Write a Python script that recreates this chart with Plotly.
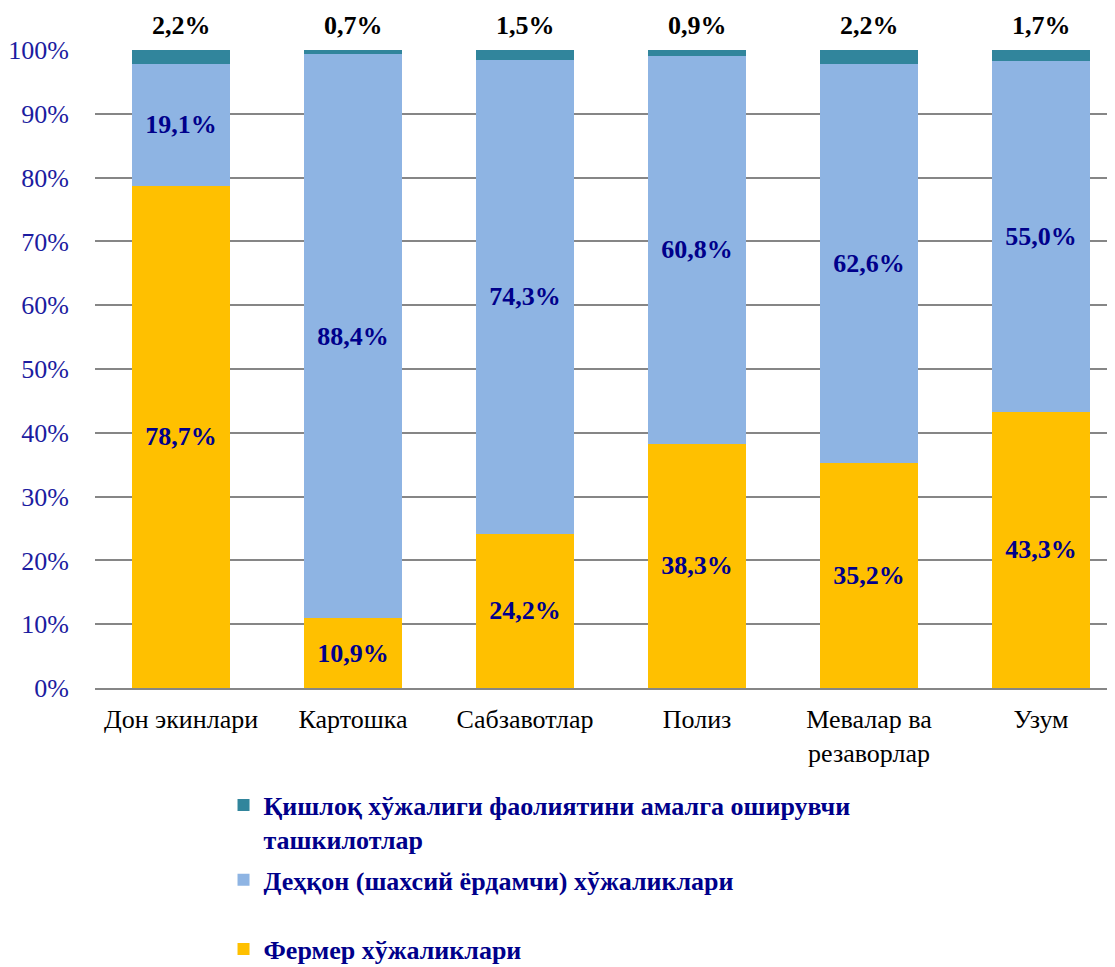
import plotly.graph_objects as go

categories = ["Дон экинлари", "Картошка", "Сабзавотлар", "Полиз", "Мевалар ва<br>резаворлар", "Узум"]
farmer = [78.7, 10.9, 24.2, 38.3, 35.2, 43.3]
dehkan = [19.1, 88.4, 74.3, 60.8, 62.6, 55.0]
orgs = [2.2, 0.7, 1.5, 0.9, 2.2, 1.7]
y_ticks = [0, 10, 20, 30, 40, 50, 60, 70, 80, 90, 100]

names = ["Фермер хўжаликлари",
         "Деҳқон (шахсий ёрдамчи) хўжаликлари",
         "Қишлоқ хўжалиги фаолиятини амалга оширувчи<br>ташкилотлар"]
colors = ["#FFC000", "#8EB4E3", "#31859C"]

def fmt(v):
    return ("%.1f%%" % v).replace(".", ",")

FONT = "Liberation Serif"
NAVY = "#00008B"

fig = go.Figure()
fig.add_trace(go.Bar(name=names[0], x=categories, y=farmer, marker_color=colors[0],
                     text=[fmt(v) for v in farmer], textposition="inside",
                     insidetextanchor="middle", width=0.57, legend="legend2"))
fig.add_trace(go.Bar(name=names[1], x=categories, y=dehkan, marker_color=colors[1],
                     text=[fmt(v) for v in dehkan], textposition="inside",
                     insidetextanchor="middle", width=0.57,
                     legendgroup="b", legendrank=2))
fig.add_trace(go.Bar(name=names[2], x=categories, y=orgs, marker_color=colors[2],
                     width=0.57, legendgroup="a", legendrank=1))

fig.update_traces(textfont=dict(family=FONT, size=26, color=NAVY, weight="bold"),
                  textangle=0, marker_line_width=0, cliponaxis=False)

# top labels for the small segment
for c, v in zip(categories, orgs):
    fig.add_annotation(x=c, y=100, text="<b>%s</b>" % fmt(v), showarrow=False,
                       yanchor="bottom", yshift=8,
                       font=dict(family=FONT, size=26, color="black"))

legend_font = dict(family=FONT, size=26, color=NAVY, weight="bold")

# page body has an 8px margin, so the figure is 8px shorter/narrower
fig.update_layout(
    barmode="stack",
    width=1107, height=959,
    margin=dict(l=85, r=0, t=42, b=279),
    plot_bgcolor="white", paper_bgcolor="white",
    font=dict(family=FONT),
    uniformtext=dict(mode=False),
    legend=dict(
        orientation="v", traceorder="grouped",
        x=0.126, y=0.1933, xanchor="left", yanchor="top",
        yref="container",
        valign="top", font=legend_font,
        itemwidth=30, tracegroupgap=4,
    ),
    legend2=dict(
        orientation="v",
        x=0.126, y=0.0432, xanchor="left", yanchor="top",
        yref="container",
        valign="top", font=legend_font,
        itemwidth=30,
    ),
    xaxis=dict(
        range=[-0.5, 5.43],
        tickfont=dict(family=FONT, size=26, color="black"),
        showline=True, linecolor="#868686", linewidth=2,
        ticks="", showgrid=False, ticklabelstandoff=7,
    ),
    yaxis=dict(
        range=[0, 100], tickvals=y_ticks,
        ticktext=["%d%%" % t for t in y_ticks],
        tickfont=dict(family=FONT, size=26, color="#1C1CA0"),
        showgrid=True, gridcolor="#868686", gridwidth=2,
        zeroline=False, ticks="", ticklen=0, ticklabelstandoff=25,
    ),
)

fig.write_html("out.html")
